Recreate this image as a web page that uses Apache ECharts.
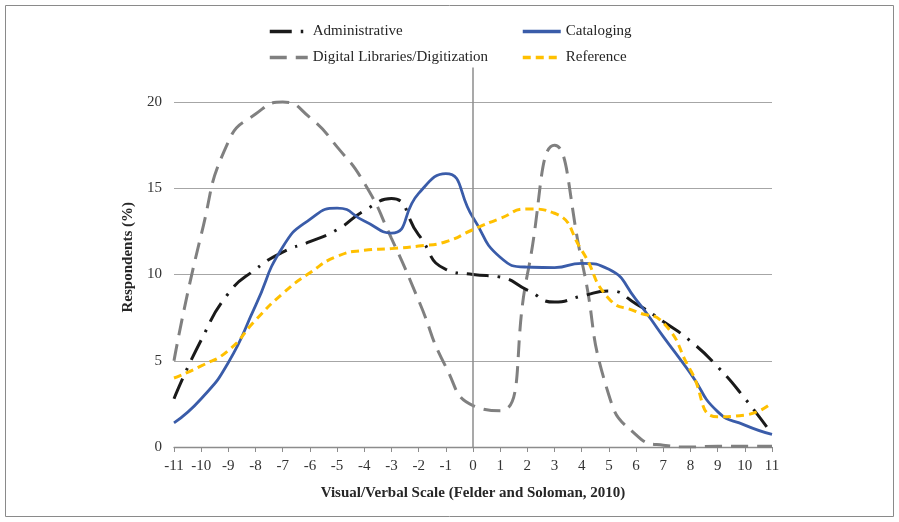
<!DOCTYPE html>
<html>
<head>
<meta charset="utf-8">
<script src="https://cdn.jsdelivr.net/npm/echarts@6/dist/echarts.min.js"></script>
<style>html,body{margin:0;padding:0;background:#fff}#c{width:899px;height:522px}</style>
</head>
<body>
<div id="c"></div>
<script>
var scale = [-11,-10,-9,-8,-7,-6,-5,-4,-3,-2,-1,0,1,2,3,4,5,6,7,8,9,10,11];
var administrative = [2.8, 6.2, 8.9, 10.3, 11.3, 11.9, 12.6, 13.7, 14.4, 12.3, 10.3, 10.0, 9.85, 9.1, 8.4, 8.75, 9.05, 8.3, 7.27, 6.14, 4.65, 2.82, 0.75];
var cataloging = [1.4, 2.8, 4.9, 8.2, 11.6, 13.2, 13.85, 13.1, 12.4, 14.7, 15.85, 13.3, 11.0, 10.43, 10.4, 10.65, 10.3, 8.55, 6.4, 4.27, 2.05, 1.27, 0.73];
var digital = [5.0, 12.3, 17.7, 19.3, 20.0, 19.1, 17.4, 15.3, 12.1, 8.5, 4.65, 2.4, 2.1, 10.0, 17.5, 10.8, 3.0, 0.7, 0.1, 0, 0.05, 0.05, 0.05];
var reference = [4.0, 4.7, 5.6, 7.35, 8.9, 10.1, 11.05, 11.4, 11.5, 11.65, 11.9, 12.6, 13.25, 13.8, 13.55, 11.4, 8.6, 7.85, 7.2, 4.46, 1.75, 1.85, 2.57];
var yTicks = [0, 5, 10, 15, 20];

function pairs(arr){ return scale.map(function(x,i){ return [x, arr[i]]; }); }
var FONT = 'Liberation Serif';
var chart = echarts.init(document.getElementById('c'));
chart.setOption({
  animation: false,
  textStyle: {fontFamily: FONT},
  graphic: [{type:'rect', shape:{x:5.5, y:5.5, width:888, height:511}, style:{fill:'none', stroke:'#8a8a8a', lineWidth:1}, z:-1}],
  legend: [
    {orient:'vertical', left:268, top:24, padding:0, itemWidth:38, itemHeight:14, itemGap:11,
     itemStyle:{opacity:0}, lineStyle:{width:3.5},
     textStyle:{fontFamily:FONT, fontSize:15, color:'#262626'},
     data:['Administrative','Digital Libraries/Digitization']},
    {orient:'vertical', left:521, top:24, padding:0, itemWidth:38, itemHeight:14, itemGap:11,
     itemStyle:{opacity:0}, lineStyle:{width:3.5},
     textStyle:{fontFamily:FONT, fontSize:15, color:'#262626'},
     data:['Cataloging','Reference']}
  ],
  grid: {left:174, right:127, top:67.5, bottom:75, containLabel:false},
  xAxis: {
    type:'value', min:-11, max:11, interval:1,
    name:'Visual/Verbal Scale (Felder and Soloman, 2010)', nameLocation:'middle', nameGap:39,
    nameTextStyle:{fontFamily:FONT, fontSize:15, fontWeight:'bold', color:'#262626'},
    axisLine:{onZero:false, lineStyle:{color:'#8c8c8c', width:1.3}},
    axisTick:{show:true, length:5, lineStyle:{color:'#8c8c8c'}},
    axisLabel:{fontFamily:FONT, fontSize:15, color:'#333', margin:12},
    splitLine:{show:false}
  },
  yAxis: {
    type:'value', min:0, max:22, interval:5,
    name:'Respondents (%)', nameLocation:'middle', nameGap:38, nameRotate:90,
    nameTextStyle:{fontFamily:FONT, fontSize:15, fontWeight:'bold', color:'#262626'},
    axisLine:{show:false}, axisTick:{show:false},
    axisLabel:{fontFamily:FONT, fontSize:15, color:'#333', margin:12, showMaxLabel:false,
      formatter:function(v){ return yTicks.indexOf(v) >= 0 ? String(v) : ''; }},
    splitLine:{show:true, showMaxLine:false, lineStyle:{color:'#a6a6a6', width:1}}
  },
  series: [
    {name:'Administrative', type:'line', smooth:0.55, symbol:'none', data:pairs(administrative),
     lineStyle:{color:'#1a1a1a', width:3, type:[22,9,2.5,9]}, itemStyle:{color:'#1a1a1a'}, z:3,
     markLine:{silent:true, symbol:'none', label:{show:false}, animation:false,
       lineStyle:{color:'#8c8c8c', width:1.5, type:'solid'}, data:[{xAxis:0}]}},
    {name:'Cataloging', type:'line', smooth:0.55, symbol:'none', data:pairs(cataloging),
     lineStyle:{color:'#3a5ca9', width:2.8, type:'solid'}, itemStyle:{color:'#3a5ca9'}, z:4},
    {name:'Digital Libraries/Digitization', type:'line', smooth:0.55, symbol:'none', data:pairs(digital),
     lineStyle:{color:'#808080', width:3, type:[17,9]}, itemStyle:{color:'#808080'}, z:2},
    {name:'Reference', type:'line', smooth:0.55, symbol:'none', data:pairs(reference),
     lineStyle:{color:'#ffc000', width:3, type:[8,5]}, itemStyle:{color:'#ffc000'}, z:5}
  ]
});
</script>
</body>
</html>
